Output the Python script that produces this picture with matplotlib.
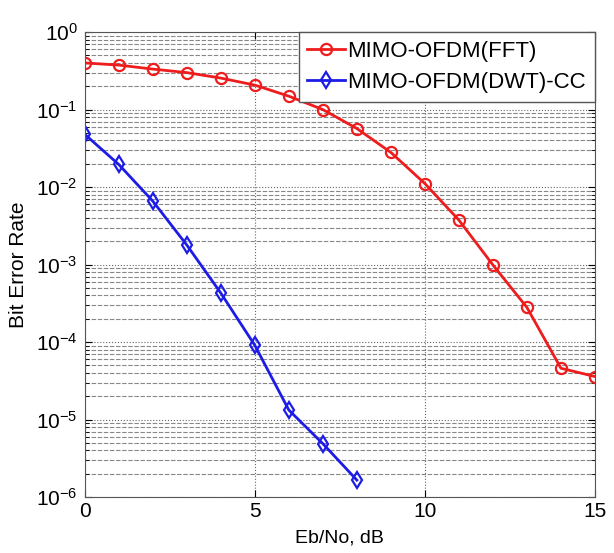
import numpy as np
import matplotlib
matplotlib.use('Agg')
import matplotlib.pyplot as plt
from matplotlib.ticker import FixedLocator, NullFormatter

plt.rcParams['font.family'] = ['Liberation Sans', 'DejaVu Sans']
plt.rcParams['mathtext.fontset'] = 'custom'
plt.rcParams['mathtext.rm'] = 'Liberation Sans'
plt.rcParams['mathtext.it'] = 'Liberation Sans'

# Eb/No in dB
snr_fft = [0, 1, 2, 3, 4, 5, 6, 7, 8, 9, 10, 11, 12, 13, 14, 15]
ber_fft = [0.40, 0.375, 0.333, 0.30, 0.255, 0.207, 0.149, 0.10, 0.057, 0.028,
           0.0111, 0.00375, 9.9e-4, 2.8e-4, 4.6e-5, 3.6e-5]

snr_dwt = [0, 1, 2, 3, 4, 5, 6, 7, 8]
ber_dwt = [0.048, 0.0196, 0.0066, 0.00179, 4.3e-4, 9.1e-5, 1.33e-5, 4.9e-6, 1.66e-6]

labels = ['MIMO-OFDM(FFT)', 'MIMO-OFDM(DWT)-CC']

fig = plt.figure(figsize=(6.14, 5.53), dpi=100)
ax = fig.add_axes([0.138, 0.101, 0.831, 0.841])

ax.semilogy(snr_fft, ber_fft, '-o', color='#ee1c1c', lw=2, ms=8,
            mfc='none', mew=1.6, label=labels[0])
ax.semilogy(snr_dwt, ber_dwt, '-d', color='#1c1ce6', lw=2, ms=8,
            mfc='none', mew=1.6, label=labels[1])

ax.set_xlim(0, 15)
ax.set_ylim(1e-6, 1)
ax.set_xticks([0, 5, 10, 15])
decades = 10.0 ** np.arange(-6, 1)
ax.set_yticks(decades)
minors = [d * k for d in decades[:-1] for k in range(2, 10)]
ax.yaxis.set_minor_locator(FixedLocator(minors))
ax.yaxis.set_minor_formatter(NullFormatter())
ax.set_ylim(1e-6, 1)

ax.grid(True, which='major', axis='both', color='#666666', ls=':', lw=0.8)
ax.grid(True, which='minor', axis='y', color='#888888', ls=(0, (4, 1.5)), lw=0.8)

ax.tick_params(which='both', direction='in', top=True, right=True, labelsize=15)
ax.tick_params(which='major', length=5)
ax.tick_params(which='minor', length=3)
ax.tick_params(axis='y', pad=5)
for s in ax.spines.values():
    s.set_color('#555555')

ax.set_xlabel('Eb/No, dB', fontsize=14, labelpad=6)
ax.set_ylabel('Bit Error Rate', fontsize=15, labelpad=6)

leg = ax.legend(loc='upper right', fontsize=16, fancybox=False, framealpha=1,
                edgecolor='#555555', borderaxespad=0, handlelength=1.7,
                handletextpad=0.1, borderpad=0.4, labelspacing=0.45)
leg.get_frame().set_linewidth(1)

fig.savefig('out.png', dpi=100)
